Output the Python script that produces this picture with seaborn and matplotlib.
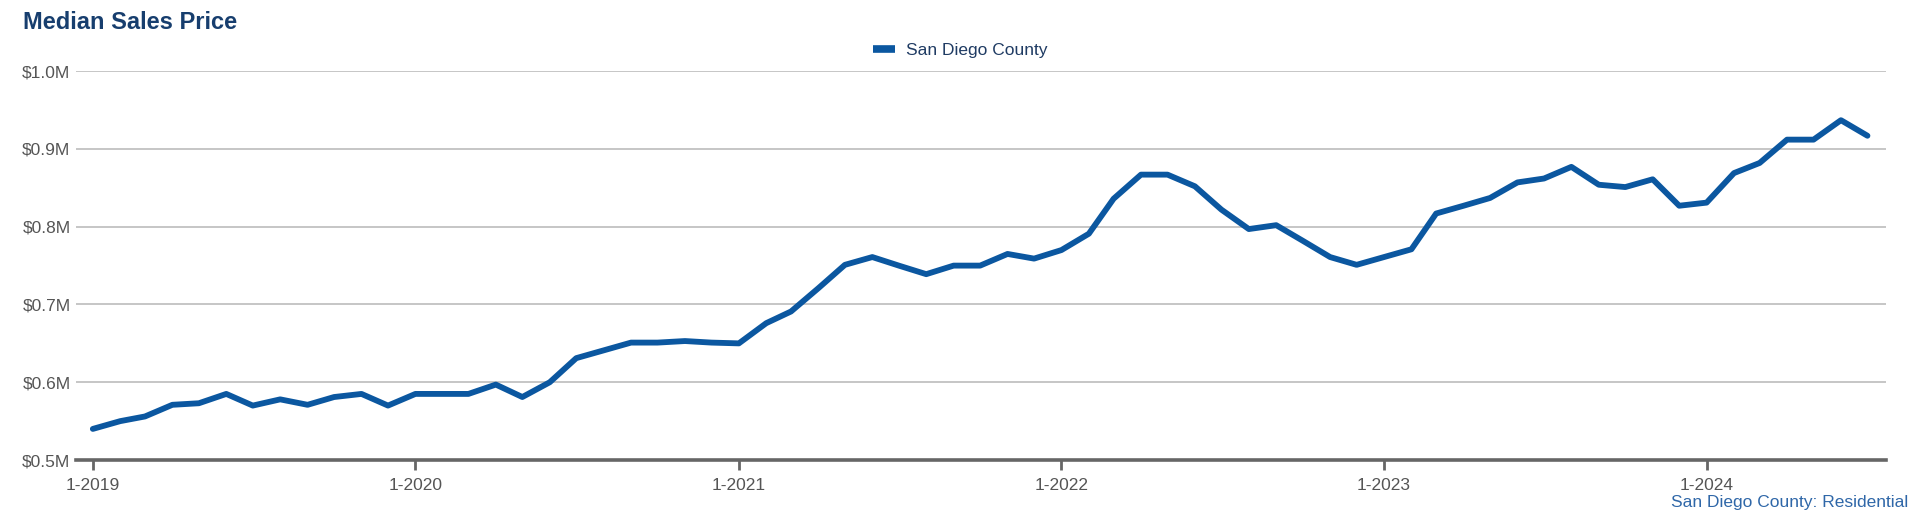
import numpy as np
import pandas as pd
import matplotlib
matplotlib.use("Agg")
import matplotlib.pyplot as plt
import matplotlib.ticker as mticker
import matplotlib.dates as mdates
import seaborn as sns

# monthly median sales price, $M, Jan 2019 - Jul 2024
months = pd.date_range("2019-01-01", "2024-07-01", freq="MS")
price_m = [
    0.540, 0.550, 0.556, 0.571, 0.573, 0.585, 0.570, 0.578, 0.571, 0.581, 0.585, 0.570,
    0.585, 0.585, 0.585, 0.597, 0.581, 0.600, 0.631, 0.641, 0.651, 0.651, 0.653, 0.651,
    0.650, 0.676, 0.691, 0.721, 0.751, 0.761, 0.750, 0.739, 0.750, 0.750, 0.765, 0.759,
    0.770, 0.791, 0.836, 0.867, 0.867, 0.852, 0.822, 0.797, 0.802, 0.782, 0.761, 0.751,
    0.761, 0.771, 0.817, 0.827, 0.837, 0.857, 0.862, 0.877, 0.854, 0.851, 0.861, 0.827,
    0.831, 0.869, 0.882, 0.912, 0.912, 0.937, 0.917,
]
series_name = "San Diego County"
y_ticks = [0.5, 0.6, 0.7, 0.8, 0.9, 1.0]

df = pd.DataFrame({"month": months, "price": price_m, "area": series_name})

sns.set_theme(style="white")
plt.rcParams["font.family"] = ["Liberation Sans", "DejaVu Sans"]

line_color = "#0b57a0"

fig = plt.figure(figsize=(19.2, 5.16), dpi=100)
ax = fig.add_axes([0.0396, 0.1085, 0.9427, 0.7535])

sns.lineplot(data=df, x="month", y="price", hue="area", palette=[line_color],
             linewidth=4.2, ax=ax, legend=True)

ax.set_ylim(0.5, 1.0)
ax.set_yticks(y_ticks)
ax.yaxis.set_major_formatter(mticker.FuncFormatter(lambda v, p: f"${v:.1f}M"))
ax.set_xlim(pd.Timestamp("2018-12-13"), pd.Timestamp("2024-07-22"))
ax.xaxis.set_major_locator(mdates.YearLocator(month=1, day=1))
ax.xaxis.set_major_formatter(mticker.FuncFormatter(
    lambda v, p: f"1-{mdates.num2date(v).year}"))

ax.grid(axis="y", color="#c6c6c6", linewidth=1.4)
ax.set_axisbelow(True)
for side in ["left", "right", "top"]:
    ax.spines[side].set_visible(False)
ax.spines["bottom"].set_color("#666666")
ax.spines["bottom"].set_linewidth(2.6)
ax.spines["bottom"].set_zorder(5)

ax.tick_params(axis="y", left=False, length=0, pad=4, labelsize=12.5, labelcolor="#555555")
ax.tick_params(axis="x", bottom=True, length=7, width=2, color="#666666", pad=6,
               labelsize=12.5, labelcolor="#555555", direction="out")
ax.set_xlabel("")
ax.set_ylabel("")

leg = ax.legend(loc="center", bbox_to_anchor=(0.5, 0.902), bbox_transform=fig.transFigure,
                frameon=False, fontsize=12.5, handlelength=1.3, handletextpad=0.6)
for t in leg.get_texts():
    t.set_color("#1f3b63")
for h in leg.get_lines():
    h.set_linewidth(5.5)
    h.set_solid_capstyle("butt")

fig.text(0.012, 0.957, "Median Sales Price", fontsize=17, fontweight="bold",
         color="#173e6e", ha="left", va="center")
fig.text(0.994, 0.027, "San Diego County: Residential", fontsize=12.5,
         color="#2f67a8", ha="right", va="center")

fig.savefig("out.png", dpi=100, facecolor="white")
